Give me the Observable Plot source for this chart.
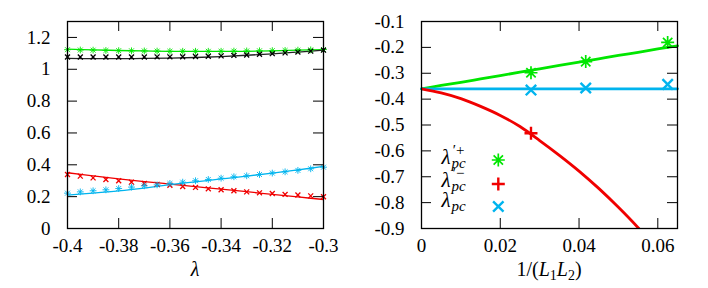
<!DOCTYPE html>
<html><head><meta charset="utf-8">
<script src="https://cdn.jsdelivr.net/npm/d3@7"></script>
<script src="https://cdn.jsdelivr.net/npm/@observablehq/plot@0.6"></script>
<style>
body{margin:0;background:#fff;}
#wrap{display:flex;width:708px;height:288px;}
</style></head><body><div id="wrap"></div>
<script>
// ---------- data: left panel ----------
const lamPts = [-0.4,-0.395,-0.39,-0.385,-0.38,-0.375,-0.37,-0.365,-0.36,-0.355,-0.35,-0.345,-0.34,-0.335,-0.33,-0.325,-0.32,-0.315,-0.31,-0.305,-0.3];
const greenPtsL = [1.123,1.121,1.120,1.118,1.117,1.116,1.115,1.114,1.113,1.113,1.113,1.113,1.113,1.114,1.115,1.116,1.117,1.118,1.120,1.122,1.124];
const blackPtsL = [1.077,1.077,1.077,1.077,1.077,1.077,1.077,1.078,1.078,1.079,1.080,1.082,1.084,1.087,1.090,1.094,1.098,1.103,1.108,1.114,1.120];
const redPtsL = [0.339,0.329,0.318,0.308,0.300,0.291,0.283,0.277,0.272,0.264,0.258,0.249,0.243,0.237,0.230,0.224,0.220,0.214,0.210,0.205,0.199];
const bluePtsL = [0.222,0.230,0.237,0.243,0.251,0.260,0.268,0.274,0.283,0.291,0.300,0.308,0.316,0.325,0.331,0.339,0.348,0.356,0.365,0.375,0.385];

const lamLine = [-0.4,-0.39,-0.38,-0.37,-0.36,-0.35,-0.34,-0.33,-0.32,-0.31,-0.3];
const greenLineL = [1.127,1.122,1.118,1.115,1.113,1.112,1.112,1.113,1.116,1.120,1.124];
const blackLineL = [1.068,1.067,1.067,1.068,1.070,1.074,1.080,1.088,1.097,1.108,1.120];
const redLineL = [0.350,0.330,0.312,0.295,0.279,0.263,0.247,0.231,0.214,0.198,0.182];
const blueLineL = [0.210,0.222,0.236,0.254,0.275,0.293,0.311,0.329,0.348,0.368,0.390];

const xTicksL = [-0.4,-0.38,-0.36,-0.34,-0.32,-0.3];
const yTicksL = [0,0.2,0.4,0.6,0.8,1,1.2];

// ---------- data: right panel ----------
const invL = [0.0278,0.0417,0.0625];
const greenPtsR = [-0.298,-0.255,-0.181];
const bluePtsR = [-0.365,-0.357,-0.343];
const invLRed = [0.0278];
const redPtsR = [-0.532];

const xLineR = [0,0.005,0.01,0.015,0.02,0.025,0.03,0.035,0.04,0.045,0.05,0.055,0.06,0.065];
const greenLineR = [-0.36,-0.347,-0.335,-0.322,-0.309,-0.296,-0.283,-0.270,-0.257,-0.244,-0.231,-0.219,-0.206,-0.194];
const blueLineR = [-0.36,-0.36,-0.36,-0.36,-0.36,-0.36,-0.36,-0.36,-0.36,-0.36,-0.36,-0.36,-0.36,-0.36];
const xRedLineR = [0,0.005,0.01,0.015,0.02,0.025,0.03,0.035,0.04,0.045,0.05,0.055,0.06];
const redLineR = [-0.36,-0.376,-0.398,-0.428,-0.463,-0.506,-0.560,-0.617,-0.678,-0.745,-0.818,-0.897,-0.985];

const xTicksR = [0,0.02,0.04,0.06];
const yTicksR = [-0.9,-0.8,-0.7,-0.6,-0.5,-0.4,-0.3,-0.2,-0.1];

// ---------- style ----------
const GREEN = "#00e600", RED = "#f00000", BLUE = "#00b4ee", BLACK = "#000";
const FONT = "Liberation Serif, DejaVu Serif, serif";

// custom gnuplot-like symbols (size = pi r^2)
const star8 = {draw(c, s){const r=Math.sqrt(s/Math.PI), d=r*0.72;
  c.moveTo(0,-r);c.lineTo(0,r);c.moveTo(-r,0);c.lineTo(r,0);
  c.moveTo(-d,-d);c.lineTo(d,d);c.moveTo(-d,d);c.lineTo(d,-d);}};
const crossX = {draw(c, s){const r=Math.sqrt(s/Math.PI)*0.8;
  c.moveTo(-r,-r);c.lineTo(r,r);c.moveTo(-r,r);c.lineTo(r,-r);}};
const plusP = {draw(c, s){const r=Math.sqrt(s/Math.PI);
  c.moveTo(0,-r);c.lineTo(0,r);c.moveTo(-r,0);c.lineTo(r,0);}};

const W=354, H=288, ML=67, MR=31, MT=21, MB=60;
const IW=W-ML-MR, IH=H-MT-MB;

function panel({xDomain, yDomain, xTicks, yTicks, marks}) {
  return Plot.plot({
    width: W, height: H, marginLeft: ML, marginRight: MR, marginTop: MT, marginBottom: MB,
    style: {fontFamily: FONT, fontSize: "19px", background: "white", color: "black"},
    x: {domain: xDomain}, y: {domain: yDomain},
    marks: [
      ...marks,
      Plot.tickY(yTicks, {y: d=>d, insetRight: IW-10, stroke: BLACK}),
      Plot.tickY(yTicks, {y: d=>d, insetLeft: IW-10, stroke: BLACK}),
      Plot.tickX(xTicks, {x: d=>d, insetTop: IH-10, stroke: BLACK}),
      Plot.tickX(xTicks, {x: d=>d, insetBottom: IH-10, stroke: BLACK}),
      Plot.axisX(xTicks, {tickSize: 0, tickPadding: 10, tickFormat: d=>String(d), fontSize: 19, label: null}),
      Plot.axisY(yTicks, {tickSize: 0, tickPadding: 17, tickFormat: d=>String(d), fontSize: 19, label: null}),
      Plot.frame({stroke: BLACK, strokeWidth: 1.3})
    ]
  });
}

const left = panel({
  xDomain: [-0.4,-0.3], yDomain: [0,1.3], xTicks: xTicksL, yTicks: yTicksL,
  marks: [
    Plot.line(greenLineL, {x: lamLine, y: greenLineL, stroke: GREEN, strokeWidth: 1.3, curve: "catmull-rom"}),
    Plot.line(blackLineL, {x: lamLine, y: blackLineL, stroke: "#222", strokeWidth: 1.3, curve: "catmull-rom"}),
    Plot.line(redLineL, {x: lamLine, y: redLineL, stroke: RED, strokeWidth: 1.3, curve: "catmull-rom"}),
    Plot.line(blueLineL, {x: lamLine, y: blueLineL, stroke: BLUE, strokeWidth: 1.3, curve: "catmull-rom"}),
    Plot.dot(greenPtsL, {x: lamPts, y: greenPtsL, symbol: star8, r: 3.4, stroke: GREEN, fill: "none", strokeWidth: 0.9}),
    Plot.dot(blackPtsL, {x: lamPts, y: blackPtsL, symbol: crossX, r: 3.1, stroke: BLACK, fill: "none", strokeWidth: 1.3}),
    Plot.dot(redPtsL, {x: lamPts, y: redPtsL, symbol: crossX, r: 3.1, stroke: RED, fill: "none", strokeWidth: 1.3}),
    Plot.dot(bluePtsL, {x: lamPts, y: bluePtsL, symbol: star8, r: 3.4, stroke: BLUE, fill: "none", strokeWidth: 0.9})
  ]
});

const right = panel({
  xDomain: [0,0.065], yDomain: [-0.9,-0.1], xTicks: xTicksR, yTicks: yTicksR,
  marks: [
    Plot.line(greenLineR, {x: xLineR, y: greenLineR, stroke: GREEN, strokeWidth: 2.8, curve: "catmull-rom"}),
    Plot.line(blueLineR, {x: xLineR, y: blueLineR, stroke: BLUE, strokeWidth: 2.8}),
    Plot.line(redLineR, {x: xRedLineR, y: redLineR, stroke: RED, strokeWidth: 2.8, curve: "catmull-rom", clip: true}),
    Plot.dot(greenPtsR, {x: invL, y: greenPtsR, symbol: star8, r: 6.5, stroke: GREEN, fill: "none", strokeWidth: 1.7}),
    Plot.dot(redPtsR, {x: invLRed, y: redPtsR, symbol: plusP, r: 6.5, stroke: RED, fill: "none", strokeWidth: 2.4}),
    Plot.dot(bluePtsR, {x: invL, y: bluePtsR, symbol: crossX, r: 6.5, stroke: BLUE, fill: "none", strokeWidth: 2.4})
  ]
});

const wrap = document.getElementById("wrap");
wrap.appendChild(left);
wrap.appendChild(right);

// ---------- axis titles ----------
const cx = ML + IW/2;
d3.select(left).append("text")
  .attr("x", cx).attr("y", 276).attr("text-anchor", "middle")
  .attr("font-family", FONT).attr("font-size", 20).attr("font-style", "italic")
  .text("λ");

const t = d3.select(right).append("text")
  .attr("x", cx).attr("y", 276).attr("text-anchor", "middle")
  .attr("font-family", FONT).attr("font-size", 20);
t.append("tspan").text("1/(");
t.append("tspan").attr("font-style", "italic").text("L");
t.append("tspan").attr("dy", 4).attr("font-size", 14).text("1");
t.append("tspan").attr("dy", -4).attr("font-style", "italic").text("L");
t.append("tspan").attr("dy", 4).attr("font-size", 14).text("2");
t.append("tspan").attr("dy", -4).text(")");

// ---------- legend (right panel) ----------
const legendRows = [
  {sup: "′+", sub: "pc", sym: star8, color: GREEN, ym: 160, yb: 164, sw: 1.7},
  {sup: "′−", sub: "pc", sym: plusP, color: RED, ym: 184, yb: 187, sw: 2.4},
  {sup: "", sub: "pc", sym: crossX, color: BLUE, ym: 206.5, yb: 207, sw: 2.4}
];
const g = d3.select(right).append("g");
for (const row of legendRows) {
  const tx = g.append("text").attr("y", row.yb)
    .attr("font-family", FONT).attr("font-style", "italic");
  tx.append("tspan").attr("x", 92).attr("font-size", 21).text("λ");
  if (row.sup) tx.append("tspan").attr("x", 104.5).attr("y", row.yb - 9).attr("font-size", 15).attr("font-style", "normal").text(row.sup);
  tx.append("tspan").attr("x", 104.5).attr("y", row.yb + 4).attr("font-size", 15).text(row.sub);
  g.append("path").attr("transform", `translate(144.3,${row.ym})`)
    .attr("d", d3.symbol(row.sym, Math.PI * 6.5 * 6.5)())
    .attr("fill", "none").attr("stroke", row.color).attr("stroke-width", row.sw);
}
</script></body></html>
